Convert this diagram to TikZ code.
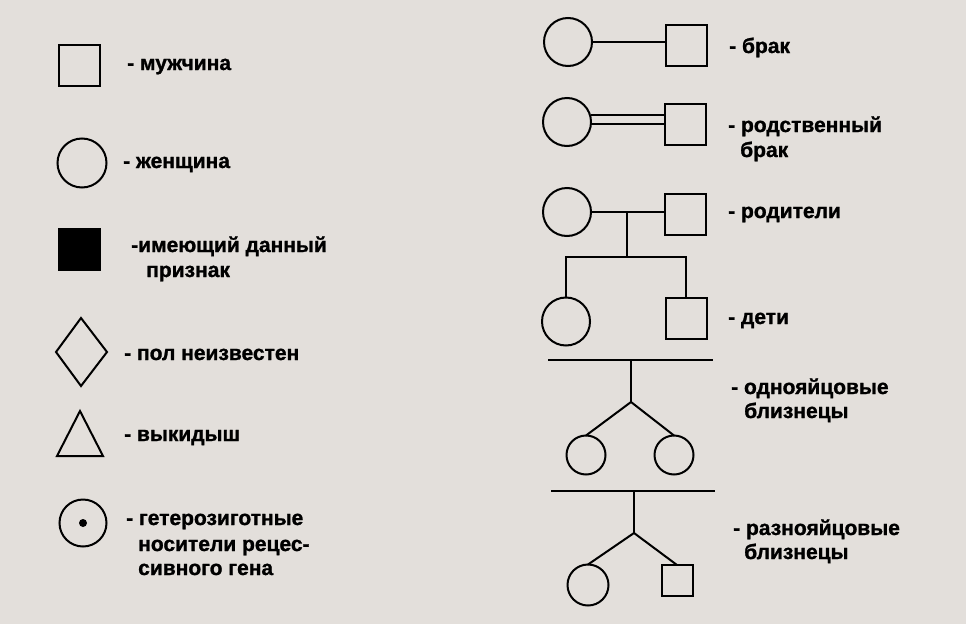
\documentclass[tikz,border=0pt]{standalone}
\usepackage{fontspec}
\setmainfont{Liberation Sans}
\newfontfamily\heavyfont{Liberation Sans Bold}[RawFeature={embolden=1.2}]
\usetikzlibrary{calc}
\definecolor{bgc}{RGB}{227,223,219}
\tikzset{
  sym/.style={draw=black, line width=2pt, inner sep=0pt, outer sep=0pt},
  male/.style={sym, rectangle, minimum size=41pt},
  female/.style={sym, circle, minimum size=48pt},
  lbl/.style={anchor=base west, inner sep=0pt, font=\heavyfont\fontsize{21}{25}\selectfont, text=black},
  conn/.style={line width=2pt, draw=black}
}
\begin{document}
\begin{tikzpicture}[x=1pt,y=-1pt]
\fill[bgc] (0,0) rectangle (966,624);
\useasboundingbox (0,0) rectangle (966,624);
% ---------- left column ----------
\node[male] (m1) at (79.5,65.5) {};
\node[lbl] (tm1) at (127,70) {- мужчина};
\node[female, minimum size=49pt] (f1) at (82,163) {};
\node[lbl] (tf1) at (123,168) {- женщина};
\node[male, fill=black] (a1) at (79.5,249) {};
\node[lbl] (ta1) at (131,252) {-имеющий данный};
\node[lbl] (ta2) at (146,277) {признак};
\draw[conn, line join=miter] (81,318) -- (107,352) -- (81,386) -- (56,352) -- cycle;
\node[lbl] (tu1) at (124,360) {- пол неизвестен};
\draw[conn, line join=miter] (57,456) -- (103,456) -- (80,411) -- cycle;
\node[lbl] (tv1) at (124,441) {- выкидыш};
\node[female, minimum size=47pt] (h1) at (83,523) {};
\fill (h1.center) circle (4pt);
\node[lbl] (th1) at (126,525) {- гетерозиготные};
\node[lbl] (th2) at (138,551) {носители рецес-};
\node[lbl] (th3) at (138,575) {сивного гена};
% ---------- right column ----------
% marriage
\node[female] (c1) at (568,42) {};
\node[male] (s1) at (686,45) {};
\draw[conn] (c1.east) -- (s1.west |- c1.east);
\node[lbl] (tb1) at (729,53) {- брак};
% consanguineous marriage
\node[female] (c2) at (567,122) {};
\node[male] (s2) at (685,124.5) {};
\draw[conn] ([yshift=7pt]c2.east) coordinate (d1) -- (s2.west |- d1);
\draw[conn] ([yshift=-2pt]c2.east) coordinate (d2) -- (s2.west |- d2);
\node[lbl] (tr1) at (728,132) {- родственный};
\node[lbl] (tr2) at (740,157) {брак};
% parents & children
\node[female] (c3) at (567,212) {};
\node[male] (s3) at (685,214) {};
\draw[conn] (c3.east) -- (s3.west |- c3.east);
\coordinate (pm) at (627,212);
\coordinate (pb) at (627,257);
\draw[conn] (pm) -- (pb);
\node[female] (c4) at (566,321.5) {};
\node[male] (s4) at (686,318) {};
\draw[conn, line join=miter] (c4.north) |- (pb) -| (s4.north);
\node[lbl] (tp1) at (728,218) {- родители};
\node[lbl] (td1) at (728,324) {- дети};
% identical twins
\coordinate (ia) at (548,360);
\coordinate (ib) at (713,360);
\draw[conn] (ia) -- (ib);
\coordinate (it) at (631,360);
\coordinate (if) at (631,402);
\node[female, minimum size=39pt] (tw1) at (586,455) {};
\node[female, minimum size=39pt] (tw2) at (674,455) {};
\draw[conn, line join=miter] (it) -- (if);
\draw[conn] (tw1.north) -- (if) -- (tw2.north);
\node[lbl] (ti1) at (731,394) {- однояйцовые};
\node[lbl] (ti2) at (744,418) {близнецы};
% fraternal twins
\coordinate (fa) at (551,491);
\coordinate (fb) at (715,491);
\draw[conn] (fa) -- (fb);
\coordinate (ft) at (634,491);
\coordinate (ff) at (634,533);
\node[female, minimum size=41pt] (fw1) at (588,585) {};
\node[male, minimum size=31pt] (fw2) at (677,580.5) {};
\draw[conn] (ft) -- (ff);
\draw[conn] (fw1.north) -- (ff) -- (fw2.north);
\node[lbl] (tf2) at (733,535) {- разнояйцовые};
\node[lbl] (tf3) at (744,559) {близнецы};
\end{tikzpicture}
\end{document}
